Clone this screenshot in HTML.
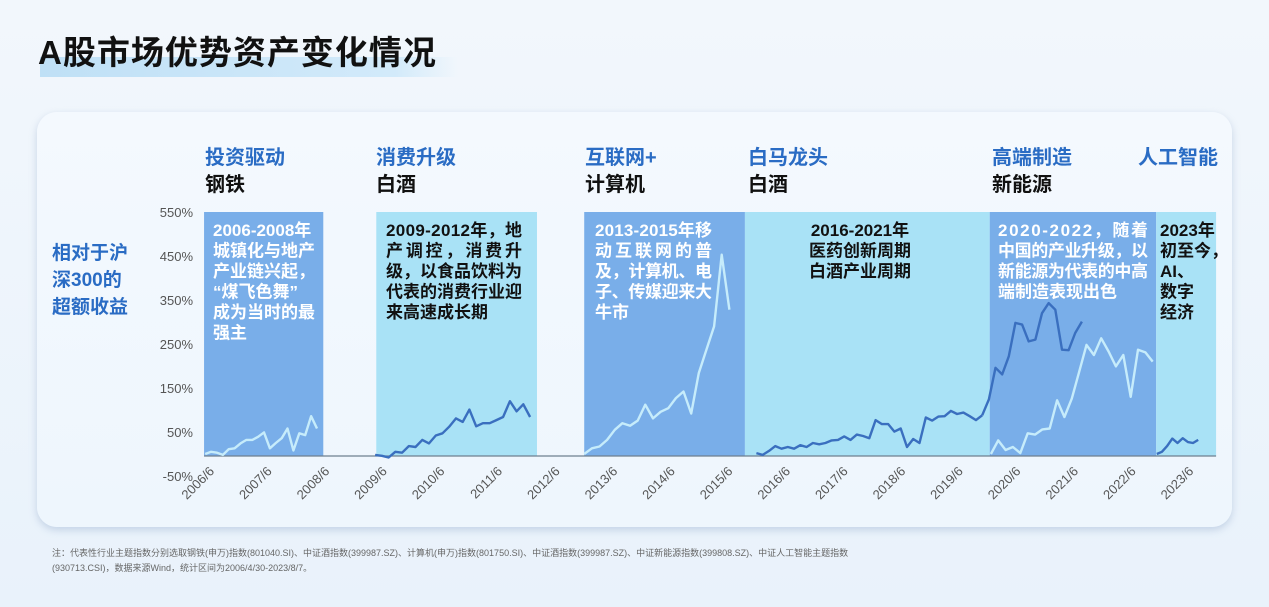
<!DOCTYPE html>
<html><head><meta charset="utf-8">
<style>
html,body{margin:0;padding:0;width:1269px;height:607px;overflow:hidden;background:linear-gradient(180deg,#f2f7fc 0%,#e9f2fb 100%);font-family:"Liberation Sans","Noto Sans CJK SC",sans-serif;}
.title{position:absolute;left:38px;top:26px;font-size:33px;font-weight:bold;color:#111;letter-spacing:1px;z-index:2}
.hl{position:absolute;left:40px;top:57px;width:418px;height:20px;background:linear-gradient(90deg,#bfe0f6,#d2eafa 85%,rgba(220,238,250,0));z-index:1}
.card{position:absolute;left:37px;top:112px;width:1195px;height:415px;border-radius:20px;background:linear-gradient(180deg,#f4f9fe,#eef6fd);box-shadow:0 3px 8px rgba(120,150,190,0.35);}
.note{position:absolute;left:52px;font-size:9px;color:#666;}
</style></head><body>
<div class="hl"></div>
<div class="title">A股市场优势资产变化情况</div>
<div class="card"></div>
<svg id="chart" width="1269" height="607" style="position:absolute;left:0;top:0"></svg>
<div class="note" style="top:546px">注：代表性行业主题指数分别选取钢铁(申万)指数(801040.SI)、中证酒指数(399987.SZ)、计算机(申万)指数(801750.SI)、中证酒指数(399987.SZ)、中证新能源指数(399808.SZ)、中证人工智能主题指数</div>
<div class="note" style="top:561px">(930713.CSI)，数据来源Wind，统计区间为2006/4/30-2023/8/7。</div>
<script>
const yTicks=[550,450,350,250,150,50,-50];
const xTickLabels=["2006/6","2007/6","2008/6","2009/6","2010/6","2011/6","2012/6","2013/6","2014/6","2015/6","2016/6","2017/6","2018/6","2019/6","2020/6","2021/6","2022/6","2023/6"];
const bandStarts=[2006.31,2009.30,2012.91,2015.70,2019.95,2022.84];
const bandEnds=[2008.38,2012.09,2015.70,2019.95,2022.84,2023.88];
const s1=[0,5,3,-2,11,13,24,32,32,39,49,13,25,36,58,8,47,43,86,58];
const s2=[-2,-4,-8,5,3,18,16,32,24,42,47,62,81,73,101,63,70,70,77,84,120,97,113,84];
const s3=[0,13,17,32,55,70,64,76,112,81,96,104,127,142,92,184,237,290,453,328];
const s4=[2,-2,7,18,12,16,12,20,16,25,22,25,31,32,40,32,44,41,36,77,68,68,51,58,16,34,25,83,76,85,86,98,91,94,86,77,88];
const s5=[88,124,196,181,222,298,294,256,260,320,343,328,237,236,275,301];
const s6=[0,31,9,16,2,47,44,56,58,122,84,126,187,248,225,263,233,199,225,130,237,231,210];
const s7=[0,5,18,35,25,36,27,25,32];
const seriesStart=[2006.33,2009.28,2012.91,2015.90,2019.82,2019.97,2022.85];
const seriesEnd=[2008.27,2011.97,2015.43,2019.82,2021.55,2022.78,2023.57];

const NS="http://www.w3.org/2000/svg";
const svg=document.getElementById('chart');
const xs=d=>215+(d-2006.5)*57.6;
const ys=v=>454-v*0.44;
function mk(tag,attrs,parent){const e=document.createElementNS(NS,tag);for(const k in attrs)e.setAttribute(k,attrs[k]);(parent||svg).appendChild(e);return e;}

const bandColors=["#79aee9","#a9e2f6","#79aee9","#a9e2f6","#79aee9","#a9e2f6"];
bandStarts.forEach((s,i)=>{
  const r=mk('rect',{x:xs(s),y:ys(550),width:xs(bandEnds[i])-xs(s),height:ys(0)+2-ys(550),fill:bandColors[i]});
  
  
});
yTicks.forEach(v=>{
  const t=mk('text',{x:193,y:ys(v)+5,'text-anchor':'end','font-size':13,fill:'#555'});
  t.textContent=v+'%';
  
  
});
xTickLabels.forEach((l,i)=>{
  const x=xs(2006.5+i);
  const t=mk('text',{x:x,y:472,'text-anchor':'end','font-size':13,fill:'#555',transform:`rotate(-45 ${x} 472)`});
  t.textContent=l;
  
  
});
const bl=mk('line',{x1:xs(2006.31),x2:xs(2023.88),y1:456,y2:456,stroke:'#6e7f90','stroke-width':1.3});


const allSeries=[s1,s2,s3,s4,s5,s6,s7];
const lineColors=["#c6ecfb","#3a6fbf","#c6ecfb","#3a6fbf","#3a6fbf","#c6ecfb","#3a6fbf"];
const names=["steel-line","liquor-line-2009","computer-line","liquor-line-2016","new-energy-line","new-energy-light-line","ai-line"];
allSeries.forEach((vals,k)=>{
  const n=vals.length,s=seriesStart[k],e=seriesEnd[k];
  const pts=vals.map((v,i)=>xs(s+(e-s)*i/(n-1)).toFixed(1)+','+ys(v).toFixed(1)).join(' ');
  const p=mk('polyline',{points:pts,fill:'none',stroke:lineColors[k],'stroke-width':2.4,'stroke-linejoin':'round'});
  
  
});
function txt(x,y,str,size,color,anchor,name){
  const t=mk('text',{x:x,y:y,'font-size':size,'font-weight':'bold',fill:color,'text-anchor':anchor||'start'});
  t.textContent=str;
  
  
  return t;
}
const heads=[[205,"投资驱动","钢铁"],[376,"消费升级","白酒"],[585,"互联网+","计算机"],[748,"白马龙头","白酒"],[992,"高端制造","新能源"],[1138,"人工智能",""]];
heads.forEach(h=>{txt(h[0],164,h[1],20,'#2a6cc4','start','theme-header');if(h[2])txt(h[0],191,h[2],20,'#111','start','industry-header');});
["相对于沪","深300的","超额收益"].forEach((s,i)=>txt(52,259+i*27,s,19,'#2a6cc4','start','y-axis-title'));
function block(x,lines,color,anchor,w){lines.forEach((s,i)=>{if(!s)return;const t=txt(x,236+i*20.5,s,17,color,anchor,'band-description');if(w){t.setAttribute('textLength',w);t.setAttribute('lengthAdjust','spacing');}});}
block(213,["2006-2008年","城镇化与地产","产业链兴起，","“煤飞色舞”","成为当时的最","强主"],'#fff','start');
block(386,["2009-2012年，地","产调控，消费升","级，以食品饮料为","代表的消费行业迎"],'#111','start',136);
block(386,["","","","","来高速成长期"],'#111','start');
block(595,["2013-2015年移","动互联网的普","及，计算机、电","子、传媒迎来大"],'#fff','start',117);
block(595,["","","","","牛市"],'#fff','start');
block(860,["2016-2021年","医药创新周期","白酒产业周期"],'#111','middle');
block(998,["2020-2022，随着","中国的产业升级，以","新能源为代表的中高"],'#fff','start',150);
block(998,["","","","端制造表现出色"],'#fff','start');
block(1160,["2023年","初至今，","AI、","数字","经济"],'#111','start');
</script>
</body></html>
